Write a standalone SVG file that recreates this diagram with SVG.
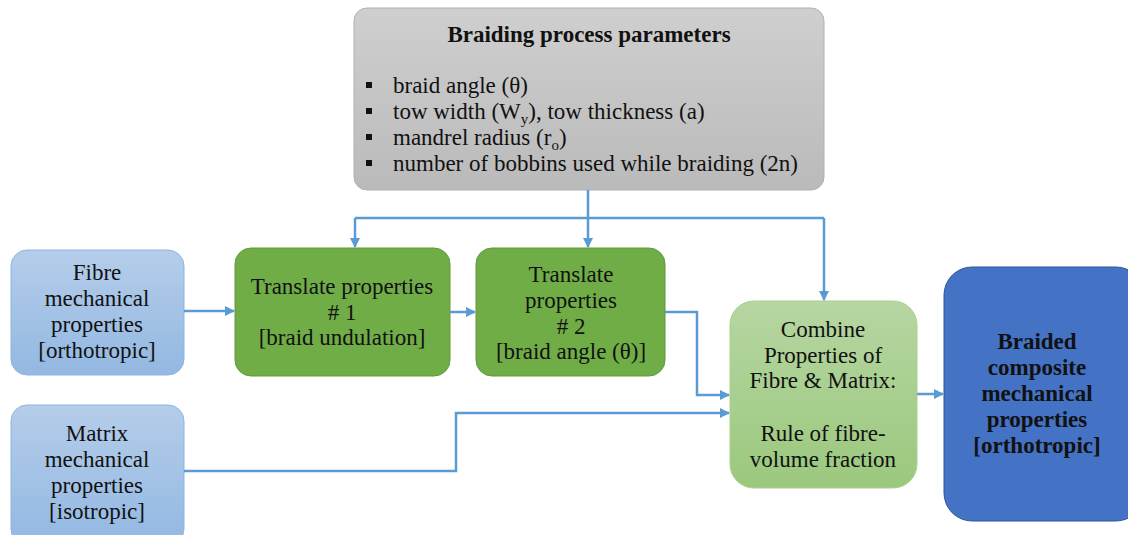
<svg xmlns="http://www.w3.org/2000/svg" width="1128" height="535" viewBox="0 0 1128 535">
  <style>
    .t { font-family: "Liberation Serif", "Times New Roman", serif; font-size: 23px; fill: #111; text-anchor: middle; }
    .b { font-weight: bold; }
    .l { text-anchor: start; }
    .conn { fill: none; stroke: #5b9bd5; stroke-width: 2.5; }
  </style>
  <defs>
    <linearGradient id="gGray" x1="0" y1="0" x2="0" y2="1">
      <stop offset="0" stop-color="#cfcfcf"/>
      <stop offset="1" stop-color="#bababa"/>
    </linearGradient>
    <linearGradient id="gBlue" x1="0" y1="0" x2="0" y2="1">
      <stop offset="0" stop-color="#b5cdea"/>
      <stop offset="1" stop-color="#93b8e2"/>
    </linearGradient>
    <linearGradient id="gLight" x1="0" y1="0" x2="0" y2="1">
      <stop offset="0" stop-color="#b6d6a2"/>
      <stop offset="1" stop-color="#9bc87d"/>
    </linearGradient>
    <marker id="arr" viewBox="0 0 10 10" refX="9" refY="5" markerWidth="4" markerHeight="4" orient="auto" markerUnits="strokeWidth">
      <path d="M0,0 L10,5 L0,10 z" fill="#5b9bd5"/>
    </marker>
  </defs>

  <!-- process parameters -->
  <g id="params">
    <rect x="354" y="8" width="470" height="182" rx="13" fill="url(#gGray)" stroke="#b0b0b0" stroke-width="1"/>
    <text class="t b" x="589" y="42">Braiding process parameters</text>
    <g fill="#111">
      <rect x="366" y="82" width="6" height="6"/>
      <rect x="366" y="108" width="6" height="6"/>
      <rect x="366" y="134" width="6" height="6"/>
      <rect x="366" y="160" width="6" height="6"/>
    </g>
    <text class="t l" x="393" y="93">braid angle (θ)</text>
    <text class="t l" x="393" y="119">tow width (W<tspan font-size="15" dy="5">y</tspan><tspan dy="-5">), tow thickness (a)</tspan></text>
    <text class="t l" x="393" y="145">mandrel radius (r<tspan font-size="15" dy="5">o</tspan><tspan dy="-5">)</tspan></text>
    <text class="t l" x="393" y="171">number of bobbins used while braiding (2n)</text>
  </g>

  <!-- fibre input -->
  <g id="fibre">
    <rect x="11" y="250" width="173" height="125" rx="16" fill="url(#gBlue)" stroke="#8db4e0" stroke-width="1"/>
    <text class="t" x="97" y="280">Fibre</text>
    <text class="t" x="97" y="306">mechanical</text>
    <text class="t" x="97" y="332">properties</text>
    <text class="t" x="97" y="358">[orthotropic]</text>
  </g>

  <!-- matrix input -->
  <g id="matrix">
    <rect x="11" y="405" width="173" height="140" rx="16" fill="url(#gBlue)" stroke="#8db4e0" stroke-width="1"/>
    <text class="t" x="97" y="441">Matrix</text>
    <text class="t" x="97" y="467">mechanical</text>
    <text class="t" x="97" y="493">properties</text>
    <text class="t" x="97" y="519">[isotropic]</text>
  </g>

  <!-- translation step 1 -->
  <g id="translate1">
    <rect x="235" y="248" width="215" height="128" rx="16" fill="#70ad47" stroke="#5f9a3a" stroke-width="1"/>
    <text class="t" x="342" y="294">Translate properties</text>
    <text class="t" x="342" y="320"># 1</text>
    <text class="t" x="342" y="345">[braid undulation]</text>
  </g>

  <!-- translation step 2 -->
  <g id="translate2">
    <rect x="476" y="248" width="189" height="128" rx="16" fill="#70ad47" stroke="#5f9a3a" stroke-width="1"/>
    <text class="t" x="571" y="282">Translate</text>
    <text class="t" x="571" y="308">properties</text>
    <text class="t" x="571" y="334"># 2</text>
    <text class="t" x="571" y="359">[braid angle (θ)]</text>
  </g>

  <!-- combination step -->
  <g id="combine">
    <rect x="730" y="301" width="187" height="187" rx="24" fill="url(#gLight)" stroke="#a9d18e" stroke-width="1"/>
    <text class="t" x="823" y="337">Combine</text>
    <text class="t" x="823" y="363">Properties of</text>
    <text class="t" x="823" y="388">Fibre &amp; Matrix:</text>
    <text class="t" x="823" y="441">Rule of fibre-</text>
    <text class="t" x="823" y="467">volume fraction</text>
  </g>

  <!-- result -->
  <g id="result">
    <rect x="944" y="267" width="200" height="254" rx="28" fill="#4472c4" stroke="#2f5597" stroke-width="1"/>
    <text class="t b" x="1037" y="349">Braided</text>
    <text class="t b" x="1037" y="375">composite</text>
    <text class="t b" x="1037" y="401">mechanical</text>
    <text class="t b" x="1037" y="427">properties</text>
    <text class="t b" x="1037" y="453">[orthotropic]</text>
  </g>

  <!-- connectors -->
  <g id="connectors">
    <polyline class="conn" points="588,190 588,218"/>
    <polyline class="conn" points="355,218 824,218"/>
    <polyline class="conn" points="355,218 355,247" marker-end="url(#arr)"/>
    <polyline class="conn" points="588,218 588,247" marker-end="url(#arr)"/>
    <polyline class="conn" points="824,218 824,300" marker-end="url(#arr)"/>
    <polyline class="conn" points="184,311 234,311" marker-end="url(#arr)"/>
    <polyline class="conn" points="450,312 475,312" marker-end="url(#arr)"/>
    <polyline class="conn" points="665,312 697,312 697,395 729,395" marker-end="url(#arr)"/>
    <polyline class="conn" points="184,471 456,471 456,413 729,413" marker-end="url(#arr)"/>
    <polyline class="conn" points="917,394 943,394" marker-end="url(#arr)"/>
  </g>
</svg>
